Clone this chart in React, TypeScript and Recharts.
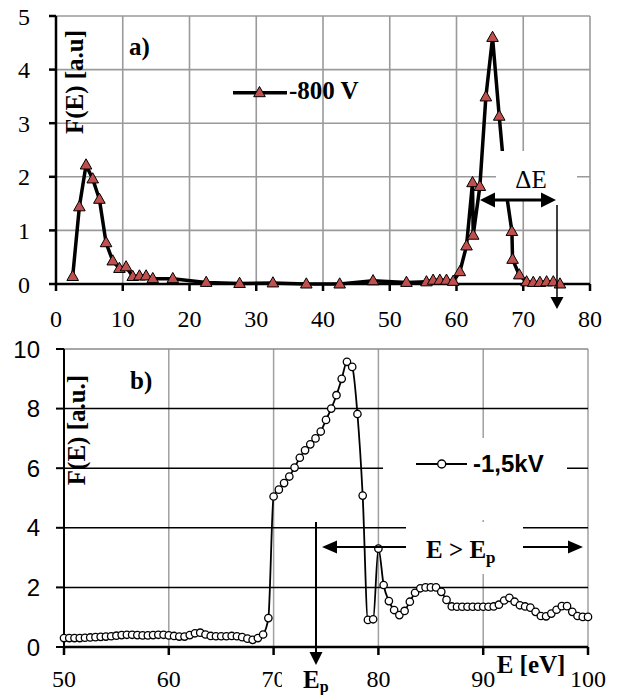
import React from 'react';
import { LineChart, Line, XAxis, YAxis, CartesianGrid, ReferenceLine, Legend } from 'recharts';

// ---------- Panel a) : -800 V ----------
const energyA = [2.5, 3.5, 4.5, 5.5, 6.5, 7.5, 8.5, 9.5, 10.5, 11.5, 12.5, 13.5, 14.5, 17.5, 22.5, 27.5, 32.5, 37.5, 42.5, 47.5, 52.5, 55.5, 56.5, 57.5, 58.5, 59.5, 60.5, 61.5, 62.4, 62.5, 63.5, 64.4, 65.4, 66.4, 67.4, 68.3, 68.4, 69.4, 70.5, 71.5, 72.5, 73.5, 74.5, 75.5];
const fluxA = [0.14, 1.44, 2.22, 1.96, 1.58, 0.77, 0.43, 0.29, 0.32, 0.14, 0.15, 0.15, 0.1, 0.1, 0.03, 0.01, 0.02, 0, 0, 0.06, 0.03, 0.04, 0.07, 0.07, 0.07, 0.05, 0.23, 0.71, 1.89, 0.91, 1.82, 3.49, 4.6, 3.13, 1.75, 0.98, 0.46, 0.17, 0.04, 0.03, 0.03, 0.04, 0.04, 0.0];
const ticksXA = [0, 10, 20, 30, 40, 50, 60, 70, 80];
const ticksYA = [0, 1, 2, 3, 4, 5];
const seriesA = '-800 V';

// ---------- Panel b) : -1,5kV ----------
const energyB = [50, 50.5, 51, 51.5, 52, 52.5, 53, 53.5, 54, 54.5, 55, 55.5, 56, 56.5, 57, 57.5, 58, 58.5, 59, 59.5, 60, 60.5, 61, 61.5, 62, 62.5, 63, 63.5, 64, 64.5, 65, 65.5, 66, 66.5, 67, 67.5, 68, 68.5, 69, 69.5, 70, 70.5, 71, 71.5, 72, 72.5, 73, 73.5, 74, 74.5, 75, 75.5, 76, 76.5, 77, 77.5, 78, 78.5, 79, 79.5, 80, 80.5, 81, 81.5, 82, 82.5, 83, 83.5, 84, 84.5, 85, 85.5, 86, 86.5, 87, 87.5, 88, 88.5, 89, 89.5, 90, 90.5, 91, 91.5, 92, 92.5, 93, 93.5, 94, 94.5, 95, 95.5, 96, 96.5, 97, 97.5, 98, 98.5, 99, 99.5, 100];
const fluxB = [
  0.30, 0.30, 0.30, 0.30, 0.31, 0.32, 0.33, 0.34, 0.35, 0.36,
  0.38, 0.40, 0.41, 0.41, 0.40, 0.39, 0.39, 0.40, 0.41, 0.41,
  0.39, 0.37, 0.35, 0.35, 0.40, 0.46, 0.48, 0.42, 0.37, 0.36,
  0.36, 0.36, 0.37, 0.36, 0.33, 0.28, 0.24, 0.30, 0.42, 0.97,
  5.05, 5.28, 5.50, 5.72, 6.02, 6.35, 6.60, 6.80, 7.00, 7.23,
  7.62, 8.00, 8.45, 9.00, 9.57, 9.40, 7.82, 5.08, 0.91, 0.93,
  3.30, 2.08, 1.54, 1.24, 1.07, 1.21, 1.52, 1.82, 1.97, 2.00,
  2.00, 2.00, 1.85, 1.58, 1.36, 1.35, 1.35, 1.35, 1.35, 1.35,
  1.35, 1.35, 1.36, 1.42, 1.56, 1.65, 1.52, 1.40, 1.36, 1.32,
  1.18, 1.04, 1.03, 1.12, 1.25, 1.37, 1.37, 1.18, 1.04, 1.01, 1.01,
];
const ticksXB = [50, 60, 70, 80, 90, 100];
const ticksYB = [0, 2, 4, 6, 8, 10];
const gridYB = [2, 4, 6, 8];
const seriesB = '-1,5kV';

const dataA = energyA.map((e, i) => ({ e, f: fluxA[i] }));
const dataB = energyB.map((e, i) => ({ e, f: fluxB[i] }));

const SERIF = '"Liberation Serif", "Times New Roman", Times, serif';
const SANS = '"Liberation Sans", Arial, Helvetica, sans-serif';
const TRI_FILL = '#C0504D';

const triPath = (cx: number, cy: number) =>
  `M${cx},${cy - 6.2} L${cx - 5.8},${cy + 4} L${cx + 5.8},${cy + 4} Z`;

const TriangleDot = (props: any) => {
  const { cx, cy } = props;
  if (cx == null || cy == null) return <g />;
  return <path d={triPath(cx, cy)} fill={TRI_FILL} stroke="#000" strokeWidth={1} />;
};

const makeXTick = (family: string) => (props: any) => {
  const { x, y, payload } = props;
  return (
    <text x={x} y={y} dy={17} textAnchor="middle" fontFamily={family} fontSize={24} fill="#000">
      {payload.value}
    </text>
  );
};
const makeYTick = (family: string) => (props: any) => {
  const { x, y, payload } = props;
  return (
    <text x={x} y={y} dy={8.5} textAnchor="end" fontFamily={family} fontSize={24} fill="#000">
      {payload.value}
    </text>
  );
};
const SerifXTick = makeXTick(SERIF);
const SerifYTick = makeYTick(SERIF);
const SansYTick = makeYTick(SANS);

const LegendA = () => (
  <svg width={170} height={40} style={{ display: 'block', overflow: 'visible' }}>
    <line x1={13} y1={22.7} x2={67} y2={22.7} stroke="#000" strokeWidth={3.5} />
    <path d={triPath(39.5, 22.7)} fill={TRI_FILL} stroke="#000" strokeWidth={1} />
    <text x={69} y={28.5} fontFamily={SERIF} fontWeight="bold" fontSize={25} fill="#000">{seriesA}</text>
  </svg>
);

const LegendB = () => (
  <svg width={184} height={82} style={{ display: 'block', overflow: 'visible' }}>
    <line x1={33} y1={26} x2={84} y2={26} stroke="#000" strokeWidth={1.8} />
    <circle cx={58.7} cy={26} r={4} fill="#fff" stroke="#000" strokeWidth={1.4} />
    <text x={90} y={34} fontFamily={SANS} fontWeight="bold" fontSize={24} fill="#000">{seriesB}</text>
  </svg>
);

export default function App() {
  return (
    <div style={{ position: 'absolute', left: 0, top: 0, width: 620, height: 695, background: '#fff', overflow: 'hidden' }}>
      {/* Panel a */}
      <div style={{ position: 'absolute', left: 0, top: 0 }}>
        <LineChart width={620} height={334} data={dataA} margin={{ top: 16, right: 30, left: 0, bottom: 10 }}>
          <CartesianGrid stroke="#9a9a9a" strokeWidth={1.6} />
          <XAxis
            type="number" dataKey="e" domain={[0, 80]} ticks={ticksXA} interval={0}
            height={40} tickSize={7} tickMargin={19}
            axisLine={{ stroke: '#000', strokeWidth: 2.5 }}
            tickLine={{ stroke: '#000', strokeWidth: 2.5 }}
            tick={SerifXTick}
          />
          <YAxis
            type="number" domain={[0, 5]} ticks={ticksYA} interval={0}
            width={56} tickSize={7} tickMargin={19}
            axisLine={{ stroke: '#000', strokeWidth: 2.5 }}
            tickLine={{ stroke: '#000', strokeWidth: 2.5 }}
            tick={SerifYTick}
          />
          <Legend
            layout="horizontal" verticalAlign="middle" align="center"
            content={() => <LegendA />}
            wrapperStyle={{ left: 220, top: 70, width: 170, height: 40 }}
          />
          <Line
            type="linear" dataKey="f" name={seriesA} stroke="#000" strokeWidth={3.5}
            dot={(p: any) => <TriangleDot key={`ta-${p.index}`} {...p} />}
            activeDot={false} isAnimationActive={false}
          />
        </LineChart>
      </div>

      {/* Panel b */}
      <div style={{ position: 'absolute', left: 0, top: 334 }}>
        <LineChart width={620} height={361} data={dataB} margin={{ top: 15, right: 32, left: 0, bottom: 8 }}>
          <CartesianGrid stroke="#a0a0a0" strokeWidth={1.5} horizontal={false} />
          {gridYB.map((v) => (
            <ReferenceLine key={`gy-${v}`} y={v} stroke="#000" strokeWidth={1.5} />
          ))}
          <ReferenceLine y={10} stroke="#8a8a8a" strokeWidth={1.6} />
          <XAxis
            type="number" dataKey="e" domain={[50, 100]} ticks={ticksXB} interval={0}
            height={40} tickSize={8} tickMargin={15}
            axisLine={{ stroke: '#000', strokeWidth: 2.5 }}
            tickLine={{ stroke: '#000', strokeWidth: 2.5 }}
            tick={SerifXTick}
          />
          <YAxis
            type="number" domain={[0, 10]} ticks={ticksYB} interval={0}
            width={64} tickSize={8} tickMargin={16}
            axisLine={{ stroke: '#000', strokeWidth: 2 }}
            tickLine={{ stroke: '#000', strokeWidth: 2 }}
            tick={SansYTick}
          />
          <Legend
            layout="horizontal" verticalAlign="middle" align="center"
            content={() => <LegendB />}
            wrapperStyle={{ left: 383, top: 104, width: 184, height: 82, background: '#fff' }}
          />
          <Line
            type="monotone" dataKey="f" name={seriesB} stroke="#000" strokeWidth={1.8}
            dot={{ r: 3.7, fill: '#fff', stroke: '#000', strokeWidth: 1.3 }}
            activeDot={false} isAnimationActive={false}
          />
        </LineChart>
      </div>

      {/* Annotations */}
      <svg width={620} height={695} style={{ position: 'absolute', left: 0, top: 0, pointerEvents: 'none' }}>
        {/* panel a */}
        <text x={129} y={55} fontFamily={SERIF} fontWeight="bold" fontSize={25} fill="#000">a)</text>
        <text transform="translate(83,82) rotate(-90)" textAnchor="middle" fontFamily={SERIF} fontWeight="bold" fontSize={25} fill="#000">F(E) [a.u]</text>
        <rect x={496} y={151} width={81} height={48} fill="#fff" />
        <text x={531} y={188} textAnchor="middle" fontFamily={SERIF} fontSize={25} fill="#000">ΔE</text>
        <line x1={492} y1={200} x2={544} y2={200} stroke="#000" strokeWidth={3} />
        <polygon points="480,200 495,192.5 495,207.5" fill="#000" />
        <polygon points="556,200 541,192.5 541,207.5" fill="#000" />
        <line x1={557} y1={205} x2={557} y2={299} stroke="#000" strokeWidth={1.5} />
        <polygon points="550.5,297 563.5,297 557,309" fill="#000" />

        {/* panel b */}
        <text x={130} y={389} fontFamily={SERIF} fontWeight="bold" fontSize={25} fill="#000">b)</text>
        <text transform="translate(85,430) rotate(-90)" textAnchor="middle" fontFamily={SERIF} fontWeight="bold" fontSize={25} fill="#000">F(E) [a.u.]</text>

        <line x1={334} y1={547} x2={571} y2={547} stroke="#000" strokeWidth={2} />
        <polygon points="322,547 337,540.5 337,553.5" fill="#000" />
        <polygon points="583,547 568,540.5 568,553.5" fill="#000" />
        <rect x={406} y={522} width={117} height={52} fill="#fff" />
        <text x={426} y={558} fontFamily={SERIF} fontWeight="bold" fontSize={25} fill="#000">
          E &gt; E<tspan fontSize={17} dy={5}>p</tspan>
        </text>

        <rect x={282} y={660} width={62} height={35} fill="#fff" />
        <line x1={316} y1={522} x2={316} y2={654} stroke="#000" strokeWidth={2} />
        <polygon points="309.5,652 322.5,652 316,665" fill="#000" />
        <text x={303} y={688} fontFamily={SERIF} fontWeight="bold" fontSize={25} fill="#000">
          E<tspan fontSize={16} dy={4}>p</tspan>
        </text>

        <text x={531} y={673} textAnchor="middle" fontFamily={SERIF} fontWeight="bold" fontSize={25} fill="#000">E [eV]</text>
      </svg>
    </div>
  );
}
